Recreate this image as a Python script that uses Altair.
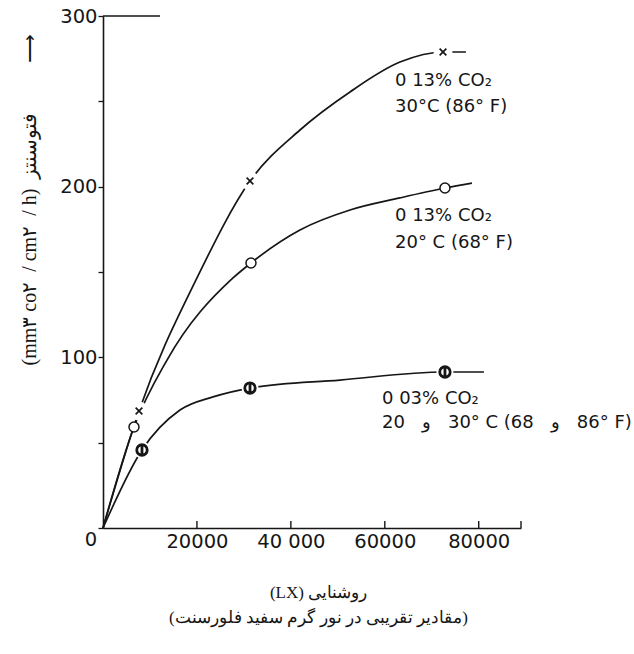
import altair as alt
import pandas as pd

# ---- curve vertices (lux , mm3 CO2 / cm2 / h) ----
s1_lux = [0, 7665, 20010, 31300, 41940, 52590, 63230, 72390, 77280]
s1_val = [0, 68.6, 146.5, 203.3, 233.2, 255.5, 273.0, 278.9, 278.9]
s2_lux = [0, 6600, 13630, 27680, 31510, 41940, 52590, 63230, 72810, 78560]
s2_val = [0, 59.2, 98.4, 146.5, 155.3, 174.6, 186.3, 193.4, 199.2, 202.1]
s3_lux = [0, 8300, 16390, 23420, 31300, 50460, 72810, 81110]
s3_val = [0, 45.7, 69.1, 76.8, 82.0, 86.7, 91.4, 91.4]

# ---- measured points (markers) ----
m1_lux = [7665, 31300, 72390]
m1_val = [68.6, 203.3, 278.9]
m2_lux = [6600, 31510, 72810]
m2_val = [59.2, 155.3, 199.2]
m3_lux = [8300, 31300, 72810]
m3_val = [45.7, 82.0, 91.4]

series_names = ["0.13% CO2 30C", "0.13% CO2 20C", "0.03% CO2 20-30C"]

# ---- annotation texts ----
NB = "\u00a0"
label_lines = [
    "0 13% CO₂", "30°C (86° F)",
    "0 13% CO₂", "20° C (68° F)",
    "0 03% CO₂",
    "20" + NB * 3 + "و\u200e" + NB * 3 + "30° C (68" + NB * 3 + "و\u200e" + NB * 3 + "86° F)",
]
label_lux = [62170, 62170, 62170, 62170, 59400, 59400]
label_val = [259.0, 243.7, 179.9, 164.1, 72.7, 58.6]

# ---- axes ----
x_domain = [0, 89000]
y_domain = [0, 300]
x_tick_values = [20000, 40000, 60000, 80000]
x_tick_labels = ["20000", "40 000", "60000", "80000"]
x_inner_ticks = [20000, 40000, 60000, 80000, 89000]
y_tick_values = [0, 50, 100, 150, 200, 250, 300]
y_labeled = [100, 200, 300]
top_frame = {"a": [0], "b": [12135], "c": [300]}

y_title = ("(mm۳" + NB + "co۲" + NB * 2 + "/" + NB + "cm۲" + NB * 2 + "/" + NB + "h)"
           + NB * 2 + "فتوسنتز" + "\u2003\u2003\u2002⟶")
x_title = ["(LX) روشنایی", "(مقادیر تقریبی در نور گرم سفید فلورسنت)"]
corner_label = "0"

INK = "#161616"
NUM_FONT = "DejaVu Sans"
SERIF = "Liberation Serif"

curves = pd.DataFrame({
    "lux": s1_lux + s2_lux + s3_lux,
    "val": s1_val + s2_val + s3_val,
    "series": [series_names[0]] * len(s1_lux)
    + [series_names[1]] * len(s2_lux)
    + [series_names[2]] * len(s3_lux),
})
m1 = pd.DataFrame({"lux": m1_lux, "val": m1_val})
m2 = pd.DataFrame({"lux": m2_lux, "val": m2_val})
m3 = pd.DataFrame({"lux": m3_lux, "val": m3_val})
labels = pd.DataFrame({"lux": label_lux, "val": label_val, "txt": label_lines})
ticks_df = pd.DataFrame({"lux": x_inner_ticks})
frame_df = pd.DataFrame(top_frame)

xs = alt.Scale(domain=x_domain, nice=False, zero=True)
ys = alt.Scale(domain=y_domain, nice=False)

x_expr = ""
for v, t in zip(x_tick_values, x_tick_labels):
    x_expr += f"datum.value == {v} ? '{t}' : "
x_expr += "''"
y_expr = "indexof([" + ",".join(str(v) for v in y_labeled) + "], datum.value) >= 0 ? datum.label : ''"

x_axis = alt.Axis(
    values=x_tick_values, labelExpr=x_expr, ticks=False, labelPadding=4,
    labelFont=NUM_FONT, labelFontSize=19.5, labelColor=INK, labelOverlap=False,
    labelFlush=False, domainColor=INK, domainWidth=1.6, grid=False,
    title=x_title, titleFont=SERIF, titleFontSize=17, titleFontWeight="normal",
    titleColor=INK, titleX=215, titleY=69, titleAlign="center",
    titleBaseline="alphabetic", titleLineHeight=25,
)
y_axis = alt.Axis(
    values=y_tick_values, labelExpr=y_expr, tickSize=5, tickWidth=1.3,
    tickColor=INK, labelPadding=1, labelFont=NUM_FONT, labelFontSize=19.5,
    labelColor=INK, domainColor=INK, domainWidth=1.6, grid=False,
    title=y_title, titleFont=SERIF, titleFontSize=20, titleFontWeight="normal",
    titleColor=INK, titleAngle=270, titleX=-74, titleY=349, titleAlign="left",
    titleBaseline="middle",
)

lines = alt.Chart(curves).mark_line(
    interpolate="monotone", color=INK, strokeWidth=1.7
).encode(
    x=alt.X("lux:Q", scale=xs, axis=x_axis),
    y=alt.Y("val:Q", scale=ys, axis=y_axis),
    detail="series:N",
)

XPATH = "M-1,-1L1,1M1,-1L-1,1"
PHI = "M-1,0A1,1,0,1,1,1,0A1,1,0,1,1,-1,0M0,-1L0,1"

enc = dict(x=alt.X("lux:Q", scale=xs), y=alt.Y("val:Q", scale=ys))

halo1 = alt.Chart(m1).mark_point(shape="circle", filled=True, color="white", opacity=1, size=361).encode(**enc)
halo3 = alt.Chart(m3).mark_point(shape="circle", filled=True, color="white", opacity=1, size=289).encode(**enc)
mark1 = alt.Chart(m1).mark_point(shape=XPATH, color=INK, strokeWidth=1.7, opacity=1, size=45).encode(**enc)
mark2 = alt.Chart(m2).mark_point(shape="circle", fill="white", stroke=INK, strokeWidth=1.5, opacity=1, fillOpacity=1, size=100).encode(**enc)
mark3 = alt.Chart(m3).mark_point(shape=PHI, fill="white", stroke=INK, strokeWidth=2.8, opacity=1, fillOpacity=1, size=110).encode(**enc)

texts = alt.Chart(labels).mark_text(
    align="left", baseline="alphabetic", font=NUM_FONT, fontSize=18, color=INK
).encode(x=alt.X("lux:Q", scale=xs), y=alt.Y("val:Q", scale=ys), text="txt:N")

corner = alt.Chart(pd.DataFrame({"lux": [0], "val": [0], "txt": [corner_label]})).mark_text(
    align="center", baseline="middle", font=NUM_FONT, fontSize=19.5, color=INK, dx=-12, dy=12
).encode(x=alt.X("lux:Q", scale=xs), y=alt.Y("val:Q", scale=ys), text="txt:N")

inner_ticks = alt.Chart(ticks_df).mark_tick(
    orient="vertical", size=7, thickness=1.4, color=INK, yOffset=-3.5, opacity=1
).encode(x=alt.X("lux:Q", scale=xs), y=alt.datum(0, scale=ys))

frame = alt.Chart(frame_df).mark_rule(color=INK, strokeWidth=1.6).encode(
    x=alt.X("a:Q", scale=xs), x2="b:Q", y=alt.Y("c:Q", scale=ys)
)

chart = alt.layer(
    lines, frame, inner_ticks, halo1, halo3, mark1, mark2, mark3, texts, corner
).properties(
    width=418, height=512,
    padding={"left": 103, "top": 16, "right": 113, "bottom": 126},
    autosize=alt.AutoSizeParams(type="none"),
    background="white",
).configure_view(strokeWidth=0)

chart.save("out.html", embed_options={"renderer": "svg", "actions": False})
